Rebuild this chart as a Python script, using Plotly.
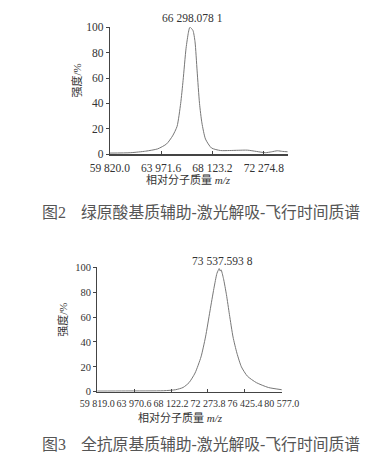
import plotly.graph_objects as go

W, H = 371, 462

# Figure 2 data (chlorogenic acid matrix)
mass1 = [59820, 61513, 62723, 63690, 64416, 64900, 65263, 65553, 65747, 65989, 66182, 66298,
         66545, 66714, 66883, 67077, 67270, 67560, 68044, 68770, 69496, 70200, 70947, 71673,
         72399, 72900, 73366, 73800, 74210]
inten1 = [1.0, 1.3, 2.5, 4.3, 8.2, 14.5, 22, 40, 58, 83.4, 96, 100,
          97.4, 88.5, 65.6, 40, 24.7, 12, 5, 3.0, 3.0, 3.2, 3.3, 2.3,
          1.3, 2.0, 2.8, 2.3, 2.0]
ticks1 = [59820.0, 63971.6, 68123.2, 72274.8]
ticklabels1 = ["59 820.0", "63 971.6", "68 123.2", "72 274.8"]
peak1_label = "66 298.078 1"
peak1 = 66298.0781

# Figure 3 data (complete antigen matrix)
mass2 = [59819, 63000, 67287, 68633, 69474, 70147, 70820, 71492, 71997, 72502, 72939, 73275,
         73420, 73537, 73650, 73746, 74015, 74351, 74688, 75091, 75529, 76033, 76706, 77715,
         79060, 80577]
inten2 = [0.5, 0.6, 0.8, 1.6, 3.4, 7.3, 15, 28, 44, 65, 83, 95,
          97.5, 99, 97, 98, 91, 78, 62, 44, 31, 20, 12.5, 7.3,
          3.4, 1.6]
ticks2 = [59819.0, 63970.6, 68122.2, 72273.8, 76425.4, 80577.0]
ticklabels2 = ["59 819.0", "63 970.6", "68 122.2", "72 273.8", "76 425.4", "80 577.0"]
peak2_label = "73 537.593 8"
peak2 = 73537.5938

yticks = [0, 20, 40, 60, 80, 100]

fig_nums = ["图2", "图3"]
captions = ["绿原酸基质辅助-激光解吸-飞行时间质谱", "全抗原基质辅助-激光解吸-飞行时间质谱"]
ytitle = "强度/%"
xtitle = "相对分子质量 <i>m/z</i>"

SERIF = "Times New Roman, Liberation Serif, serif"
MIXED = "Times New Roman, Liberation Serif, Noto Sans CJK SC, serif"
line_col = "#777777"
axis_col = "#444444"

def px_x(p):
    return p / W

def px_y(p):
    return 1 - p / H

fig = go.Figure()
fig.add_trace(go.Scatter(x=mass1, y=inten1, mode="lines", line=dict(color=line_col, width=1, shape="spline", smoothing=0.6),
                         xaxis="x", yaxis="y", showlegend=False, hoverinfo="skip"))
fig.add_trace(go.Scatter(x=mass2, y=inten2, mode="lines", line=dict(color=line_col, width=1, shape="spline", smoothing=0.6),
                         xaxis="x2", yaxis="y2", showlegend=False, hoverinfo="skip"))

common_x = dict(showgrid=False, zeroline=False, showline=True, linecolor=axis_col,
                ticks="inside", ticklen=3, tickcolor=axis_col, tickmode="array", tickangle=0,
                ticklabelstandoff=2)
common_y = dict(showgrid=False, zeroline=False, showline=True, linecolor=axis_col, linewidth=1,
                ticks="outside", ticklen=3, tickcolor=axis_col, tickmode="array",
                tickvals=yticks, ticktext=[str(v) for v in yticks], range=[0, 100])

fig.update_layout(
    width=W, height=H, margin=dict(l=0, r=0, t=0, b=0),
    paper_bgcolor="white", plot_bgcolor="white",
    xaxis=dict(**common_x, domain=[px_x(100), px_x(298.3)], range=[59820, 74210],
               tickvals=ticks1, ticktext=ticklabels1, anchor="y", linewidth=2,
               tickfont=dict(family=SERIF, size=11.5, color="#333333")),
    yaxis=dict(**common_y, domain=[px_y(152.3), px_y(21.7)], anchor="x",
               tickfont=dict(family=SERIF, size=11.5, color="#333333")),
    xaxis2=dict(**common_x, domain=[px_x(86), px_x(291.7)], range=[59819, 80577],
                tickvals=ticks2, ticktext=ticklabels2, anchor="y2", linewidth=1,
                tickfont=dict(family=SERIF, size=10, color="#333333")),
    yaxis2=dict(**common_y, domain=[px_y(396), px_y(268.3)], anchor="x2",
                tickfont=dict(family=SERIF, size=10.5, color="#333333")),
)

ann = []
# peak labels
ann.append(dict(x=peak1, y=100, xref="x", yref="y", text=peak1_label, showarrow=False,
                yshift=9, xshift=3, font=dict(family=SERIF, size=11.5, color="#333333")))
ann.append(dict(x=peak2, y=100, xref="x2", yref="y2", text=peak2_label, showarrow=False,
                yshift=6, xshift=3, font=dict(family=SERIF, size=11.5, color="#333333")))
# axis titles
for (xp, yp, txt, ang) in [(63, 77, ytitle, -90), (188, 178, xtitle, 0),
                           (48, 322, ytitle, -90), (179, 422, xtitle, 0)]:
    ann.append(dict(x=px_x(xp), y=px_y(yp), xref="paper", yref="paper", text=txt, textangle=ang,
                    showarrow=False, xanchor="center", yanchor="middle",
                    font=dict(family=MIXED, size=11, color="#333333")))
# captions
for (yp, num, txt) in [(212.5, fig_nums[0], captions[0]), (450, fig_nums[1], captions[1])]:
    ann.append(dict(x=px_x(22), y=px_y(yp), xref="paper", yref="paper", text=num, showarrow=False,
                    xanchor="left", yanchor="middle",
                    font=dict(family=MIXED, size=16, color="#555555")))
    ann.append(dict(x=px_x(65.5), y=px_y(yp), xref="paper", yref="paper", text=txt, showarrow=False,
                    xanchor="left", yanchor="middle",
                    font=dict(family=MIXED, size=15.8, color="#555555")))
fig.update_layout(annotations=ann)

fig.write_html("out.html")
